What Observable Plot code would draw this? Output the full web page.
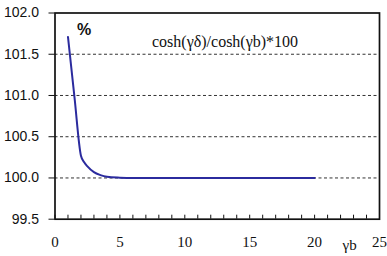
<!DOCTYPE html>
<html>
<head>
<meta charset="utf-8">
<script src="https://cdn.jsdelivr.net/npm/d3@7"></script>
<script src="https://cdn.jsdelivr.net/npm/@observablehq/plot@0.6"></script>
<style>
  html, body { margin: 0; padding: 0; background: #fff; }
  #chart svg { display: block; }
</style>
</head>
<body>
<div id="chart"></div>
<script>
// Data
const gammaB = [1, 1.5, 2, 2.25, 2.5, 3, 3.5, 4, 5, 6, 8, 10, 12, 14, 16, 18, 20];
const ratio  = [101.71, 100.98, 100.27, 100.19, 100.14, 100.07, 100.035, 100.015, 100.004, 100.0, 100.0, 100.0, 100.0, 100.0, 100.0, 100.0, 100.0];
const yTicks = [99.5, 100.0, 100.5, 101.0, 101.5, 102.0];
const gridValues = [100.0, 100.5, 101.0, 101.5];
const xTicks = [0, 5, 10, 15, 20, 25];
const xMinorTicks = d3.range(0, 26, 1);
const seriesLabel = "cosh(γδ)/cosh(γb)*100";
const unitLabel = "%";
const xLabel = "γb";

const SERIF = '"Liberation Serif", "Times New Roman", serif';
const SANS = '"Liberation Sans", Arial, sans-serif';

const data = gammaB.map((x, i) => ({x, y: ratio[i]}));

const chart = Plot.plot({
  width: 387,
  height: 256,
  marginLeft: 54.5,
  marginTop: 12.5,
  marginRight: 8,
  marginBottom: 37.3,
  style: {background: "#fff", fontFamily: SERIF},
  x: {domain: [0, 25], label: null},
  y: {domain: [99.5, 102], label: null},
  marks: [
    Plot.ruleY(gridValues, {stroke: "#333", strokeWidth: 1, strokeDasharray: "3,2.5"}),
    Plot.axisX({ticks: xMinorTicks, tickSize: -4, tickFormat: () => "", label: null, stroke: "#111", strokeWidth: 1}),
    Plot.axisX({ticks: xTicks, tickSize: 0, tickPadding: 17, label: null, fontSize: 15, fill: "#111", tickFormat: d => String(d)}),
    Plot.axisY({ticks: yTicks, tickSize: 6, tickPadding: 10, label: null, fontSize: 14, fill: "#111", stroke: "#111", tickFormat: d3.format(".1f")}),
    Plot.line(data, {x: "x", y: "y", stroke: "#2b2b9e", strokeWidth: 2, curve: "monotone-x"}),
    Plot.frame({stroke: "#111", strokeWidth: 1.7}),
    Plot.text([unitLabel], {x: 2.25, y: 101.79, text: d => d, fontSize: 16, fontWeight: "bold", fill: "#111"}),
    Plot.text([seriesLabel], {x: 13.1, y: 101.655, text: d => d, fontSize: 16, fill: "#111"}),
    Plot.text([xLabel], {x: 22.7, y: 99.5, dy: 26, text: d => d, fontSize: 15, fill: "#111"})
  ]
});
// font assignment: y tick labels and "%" in sans, everything else serif
d3.select(chart).selectAll("text").each(function() {
  const t = this.textContent;
  const sans = t === unitLabel || /^\d+\.\d$/.test(t);
  this.style.fontFamily = sans ? SANS : SERIF;
});
document.getElementById("chart").append(chart);
</script>
</body>
</html>
